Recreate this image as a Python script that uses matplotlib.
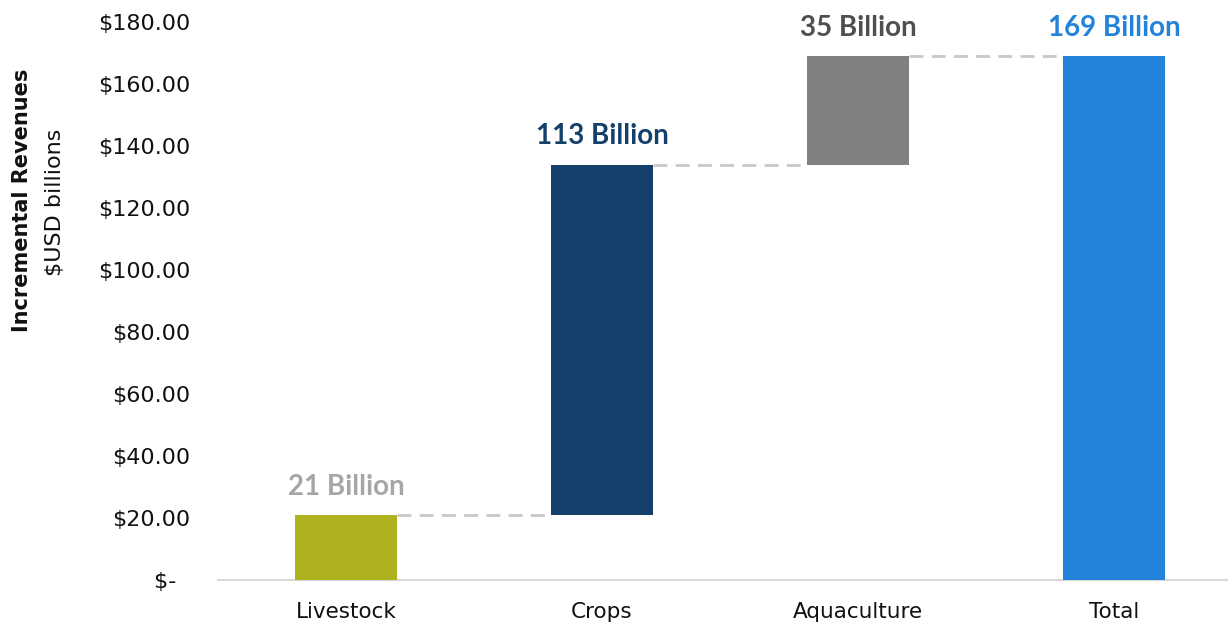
import numpy as np
import matplotlib
matplotlib.use("Agg")
import matplotlib.pyplot as plt
from matplotlib.ticker import FuncFormatter

# data
categories = ["Livestock", "Crops", "Aquaculture", "Total"]
increments = [21, 113, 35]
labels = ["21 Billion", "113 Billion", "35 Billion", "169 Billion"]
bar_colors = ["#AFB21F", "#15406B", "#808080", "#2383DA"]
label_colors = ["#A6A6A6", "#15406B", "#4F4F4F", "#2383DA"]
yticks = [0, 20, 40, 60, 80, 100, 120, 140, 160, 180]

plt.rcParams['font.family'] = ['DejaVu Sans']

total = sum(increments)
bottoms = list(np.cumsum([0] + increments[:-1])) + [0]
heights = increments + [total]
tops = [b + h for b, h in zip(bottoms, heights)]

fig = plt.figure(figsize=(12.28, 6.29), dpi=100)
ax = fig.add_axes([218 / 1228, 49 / 629, 1 - 218 / 1228, 558 / 629])

x = np.arange(len(categories))
width = 0.40
ax.bar(x, heights, width=width, bottom=bottoms, color=bar_colors, zorder=3)

# connectors between bars
for i in range(len(categories) - 1):
    level = tops[i]
    ax.plot([x[i] + width / 2, x[i + 1] - width / 2], [level, level],
            color="#C8C8C8", lw=2, linestyle=(0, (5, 3)), zorder=2)

# value labels
for i in range(len(categories)):
    ax.annotate(labels[i], (x[i], tops[i]), xytext=(0, 11), textcoords="offset points",
                ha="center", va="bottom", fontsize=20, fontweight="bold",
                color=label_colors[i], family=["Lato", "DejaVu Sans"])

ax.set_xlim(-0.5, 3.445)
ax.set_ylim(0, 180)
ax.set_yticks(yticks)
ax.yaxis.set_major_formatter(FuncFormatter(lambda v, p: "$-  " if v == 0 else f"${v:.2f}"))
ax.set_xticks(x)
ax.set_xticklabels(categories)
ax.tick_params(axis="y", length=0, pad=20, labelsize=16, labelcolor="#111111")
ax.tick_params(axis="x", length=0, pad=16, labelsize=15.5, labelcolor="#111111")

for s in ["top", "right", "left"]:
    ax.spines[s].set_visible(False)
ax.spines["bottom"].set_color("#D9D9D9")
ax.spines["bottom"].set_linewidth(1.5)

fig.text(22 / 1228, 1 - 200 / 629, "Incremental Revenues", rotation=90,
         ha="center", va="center", fontsize=15, fontweight="bold", color="#111111")
fig.text(55 / 1228, 1 - 202 / 629, "$USD billions", rotation=90,
         ha="center", va="center", fontsize=16, color="#111111")

fig.savefig("out.png", dpi=100)
